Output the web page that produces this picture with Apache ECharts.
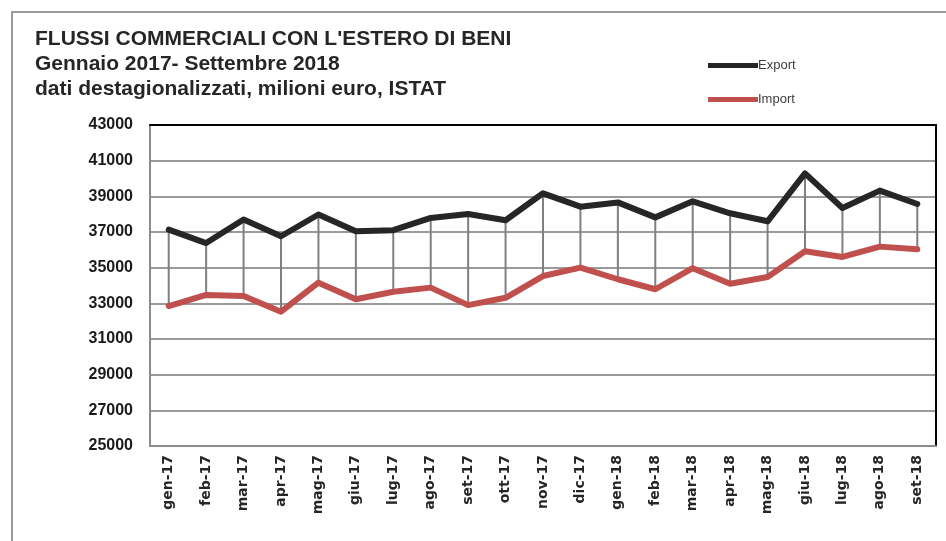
<!DOCTYPE html>
<html>
<head>
<meta charset="utf-8">
<script src="https://cdn.jsdelivr.net/npm/echarts@6/dist/echarts.min.js"></script>
<style>
  html, body { margin: 0; padding: 0; background: #fff; }
  #chart { width: 946px; height: 541px; }
</style>
</head>
<body>
<div id="chart"></div>
<script>
// mesi (asse x)
const months = ['gen-17', 'feb-17', 'mar-17', 'apr-17', 'mag-17', 'giu-17', 'lug-17', 'ago-17', 'set-17', 'ott-17',
  'nov-17', 'dic-17', 'gen-18', 'feb-18', 'mar-18', 'apr-18', 'mag-18', 'giu-18', 'lug-18', 'ago-18', 'set-18'];
// milioni di euro
const exportVals = [37130, 36380, 37700, 36760, 37980, 37040, 37100, 37790, 38010, 37660,
  39170, 38420, 38660, 37820, 38720, 38050, 37600, 40290, 38350, 39320, 38570];
const importVals = [32850, 33470, 33410, 32530, 34160, 33230, 33650, 33880, 32900, 33310,
  34530, 35000, 34350, 33790, 34970, 34100, 34480, 35920, 35600, 36180, 36030];
// asse y
const yMin = 25000;
const yMax = 43000;
const yStep = 2000;

const titleLines = [
  "FLUSSI COMMERCIALI CON L'ESTERO DI BENI",
  'Gennaio 2017- Settembre 2018',
  'dati destagionalizzati, milioni euro, ISTAT'
];

const chart = echarts.init(document.getElementById('chart'));

// linee verticali tra export e import
const dropData = months.map((m, i) => [i, exportVals[i], importVals[i]]);

const option = {
  backgroundColor: '#fff',
  animation: false,
  graphic: [
    {
      type: 'rect',
      shape: { x: 12, y: 12, width: 1000, height: 600 },
      style: { fill: 'none', stroke: '#9a9a9a', lineWidth: 2 },
      z: -1
    },
    {
      type: 'text',
      left: 35,
      top: 27,
      style: {
        text: titleLines.join('\n'),
        font: 'bold 21px "Liberation Sans", Arial, sans-serif',
        lineHeight: 25,
        fill: '#262626'
      }
    }
  ],
  legend: {
    orient: 'vertical',
    left: 703,
    top: 54,
    itemGap: 21,
    itemWidth: 50,
    itemHeight: 5,
    icon: 'rect',
    textStyle: { fontSize: 13, color: '#404040', fontFamily: '"Liberation Sans", Arial, sans-serif', padding: [0, 0, 0, -5] },
    data: ['Export', 'Import']
  },
  grid: { left: 150, right: 10, top: 125, bottom: 95 },
  xAxis: [
    {
      type: 'category',
      data: months,
      boundaryGap: true,
      axisLine: { lineStyle: { color: '#8c8c8c', width: 2 } },
      axisTick: { show: false },
      axisLabel: {
        rotate: 90,
        fontSize: 14,
        fontWeight: 'bold',
        color: '#262626',
        margin: 9,
        fontFamily: '"DejaVu Sans", sans-serif'
      }
    },
    {
      type: 'category',
      position: 'top',
      data: months,
      axisLine: { lineStyle: { color: '#000', width: 2 } },
      axisTick: { show: false },
      axisLabel: { show: false }
    }
  ],
  yAxis: [
    {
      type: 'value',
      min: yMin,
      max: yMax,
      interval: yStep,
      axisLine: { show: true, lineStyle: { color: '#8c8c8c', width: 2 } },
      axisTick: { show: false },
      splitLine: { lineStyle: { color: '#9a9a9a', width: 2 } },
      axisLabel: {
        fontSize: 16,
        fontWeight: 'bold',
        color: '#1a1a1a',
        margin: 17,
        formatter: v => String(v),
        fontFamily: '"Liberation Sans", Arial, sans-serif'
      }
    },
    {
      type: 'value',
      position: 'right',
      min: yMin,
      max: yMax,
      interval: yStep,
      axisLine: { show: true, lineStyle: { color: '#000', width: 2 } },
      axisTick: { show: false },
      axisLabel: { show: false },
      splitLine: { show: false }
    }
  ],
  series: [
    {
      type: 'custom',
      name: 'drop',
      data: dropData,
      z: 1,
      renderItem: function (params, api) {
        const top = api.coord([api.value(0), api.value(1)]);
        const bot = api.coord([api.value(0), api.value(2)]);
        return {
          type: 'line',
          shape: { x1: top[0], y1: top[1], x2: bot[0], y2: bot[1] },
          style: { stroke: '#808080', lineWidth: 2 }
        };
      }
    },
    {
      name: 'Export',
      type: 'line',
      data: exportVals,
      symbol: 'none',
      z: 3,
      color: '#262626',
      lineStyle: { color: '#262626', width: 6, cap: 'round', join: 'round' }
    },
    {
      name: 'Import',
      type: 'line',
      data: importVals,
      symbol: 'none',
      z: 3,
      color: '#c0504d',
      lineStyle: { color: '#c0504d', width: 6, cap: 'round', join: 'round' }
    }
  ]
};

chart.setOption(option);
</script>
</body>
</html>
